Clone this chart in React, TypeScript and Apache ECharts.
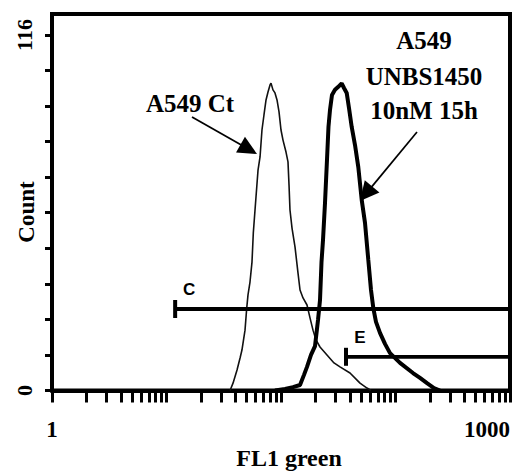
import React, { useEffect, useRef } from "react";
import * as echarts from "echarts";

// FL1 green intensity (channel value) and event counts
const CONTROL_FL1 = [35.9, 38.1, 41.3, 43.9, 45.6, 48.5, 50.2, 51.5, 53.6, 55.8, 57.3, 59.3, 61.4, 63.0, 65.6, 68.2, 71.0, 74.0, 77.0, 80.2, 81.8, 85.1, 88.6, 92.3, 96.1, 100, 104.1, 110.6, 115.1, 117.5, 119.8, 124.8, 132.6, 140.8, 146.6, 155.7, 168.7, 179.2, 190.3, 202.2, 219.1, 252.1, 290.3, 327.6, 400.5, 489.8, 563.8, 611.0];
const CONTROL_COUNT = [0, 2.4, 6.7, 10.6, 13.2, 19.7, 26.9, 31.2, 35.4, 41.9, 51.4, 58.9, 66.4, 71.9, 76.2, 85.0, 89.9, 94.8, 97.4, 99.7, 100.3, 98.1, 97.1, 94.8, 90.9, 85.0, 81.7, 77.8, 74.6, 67.1, 58.9, 53.0, 46.8, 38.3, 32.8, 30.2, 27.9, 23.7, 19.7, 16.5, 14.2, 11.6, 9.0, 7.7, 5.7, 2.4, 0.8, 0];

const TREATED_FL1 = [88.6, 108.4, 127.3, 146.6, 158.8, 168.7, 182.8, 198.2, 210.5, 219.1, 225.8, 232.7, 242.3, 252.1, 259.8, 267.8, 278.8, 296.1, 314.7, 338.9, 354.9, 374.8, 392.5, 414.5, 443.0, 473.3, 506.8, 541.6, 578.7, 611.0, 640.0, 675.5, 731.9, 809.6, 895.4, 1094.9, 1421.5, 1636.7, 1884.5, 2169.5, 2446.3];
const TREATED_COUNT = [0, 0.5, 1.1, 1.8, 5.1, 7.7, 11.6, 14.5, 23.0, 29.5, 41.9, 49.1, 61.2, 75.2, 86.0, 91.5, 96.4, 98.1, 99.0, 100.2, 98.7, 97.1, 92.2, 86.0, 80.1, 72.9, 62.2, 54.7, 42.6, 32.8, 26.9, 22.4, 18.8, 15.2, 12.2, 9.0, 5.7, 4.1, 2.4, 0.8, 0];

// Gates
const GATE_NAMES = ["C", "E"];
const GATE_START = [11.9, 369.6];
const GATE_END = [10000, 10000];
const GATE_COUNT = [26.6, 11.0];

// Axes
const X_MIN = 1;
const X_MAX = 10000;
const X_TICK_VALUES = [1, 2, 3, 4, 5, 6, 7, 8, 9, 10, 20, 30, 40, 50, 60, 70, 80, 90, 100, 200, 300, 400, 500, 600, 700, 800, 900, 1000, 2000, 3000, 4000, 5000, 6000, 7000, 8000, 9000, 10000];
const X_LABEL_VALUES = [1, 10000];
const X_LABEL_TEXTS = ["1", "1000"];
const Y_MAX = 122.85;
const Y_TICK_VALUES = [0, 11.6, 23.2, 34.8, 46.4, 58, 69.6, 81.2, 92.8, 104.4, 116];
const Y_LABEL_VALUES = [0, 116];

const SERIF = "'Liberation Serif', 'Times New Roman', serif";
const SANS = "'Liberation Sans', Arial, sans-serif";

const lg = (v: number) => Math.log10(v);

function arrow(x1: number, y1: number, x2: number, y2: number, headLen: number, headW: number) {
  const dx = x2 - x1, dy = y2 - y1;
  const L = Math.hypot(dx, dy);
  const ux = dx / L, uy = dy / L;
  const bx = x2 - ux * headLen, by = y2 - uy * headLen;
  const px = -uy, py = ux;
  return [
    { type: "line", shape: { x1, y1, x2: bx + ux * 2, y2: by + uy * 2 }, style: { stroke: "#000", lineWidth: 1.7 } },
    {
      type: "polygon",
      shape: { points: [[x2, y2], [bx + (px * headW) / 2, by + (py * headW) / 2], [bx - (px * headW) / 2, by - (py * headW) / 2]] },
      style: { fill: "#000" },
    },
  ];
}

function txt(text: string, x: number, y: number, size: number, rotation = 0) {
  return {
    type: "text",
    x,
    y,
    rotation,
    style: { text, align: "center", verticalAlign: "middle", fontFamily: SERIF, fontWeight: "bold", fontSize: size, fill: "#000" },
  };
}

export default function App() {
  const ref = useRef<HTMLDivElement>(null);
  useEffect(() => {
    if (!ref.current) return;
    const chart = echarts.init(ref.current, null, { renderer: "svg" });

    const gateLines = GATE_NAMES.map((name, i) => ({
      type: "line",
      name: "gate " + name,
      data: [[lg(GATE_START[i]), GATE_COUNT[i]], [lg(GATE_END[i]), GATE_COUNT[i]]],
      showSymbol: false,
      symbol: "none",
      lineStyle: { color: "#000", width: 3.8 },
      z: 3,
    }));
    const gateCaps = GATE_NAMES.map((name, i) => ({
      type: "scatter",
      name: "cap " + name,
      symbol: "rect",
      symbolSize: [4, 18],
      itemStyle: { color: "#000", opacity: 1 },
      z: 4,
      label: {
        show: true,
        formatter: (p: any) => (p.dataIndex === 0 ? name : ""),
        position: "top",
        distance: 2,
        offset: [14, 0],
        fontFamily: SANS,
        fontWeight: "bold",
        fontSize: 17,
        color: "#000",
        opacity: 1,
      },
      emphasis: { disabled: true },
      data: [
        [lg(GATE_START[i]), GATE_COUNT[i]],
        [lg(GATE_END[i]), GATE_COUNT[i]],
      ],
    }));

    chart.setOption({
      animation: false,
      backgroundColor: "#fff",
      grid: {
        left: 52,
        top: 14,
        width: 458,
        height: 376.5,
        show: true,
        borderColor: "#000",
        borderWidth: 4,
        backgroundColor: "transparent",
        containLabel: false,
        outerBoundsMode: "none",
      },
      xAxis: {
        type: "value",
        min: lg(X_MIN),
        max: lg(X_MAX),
        name: "FL1 green",
        nameLocation: "middle",
        nameGap: 55,
        nameTextStyle: { fontFamily: SERIF, fontWeight: "bold", fontSize: 24, color: "#000", padding: [0, 0, 0, 16] },
        axisLine: { show: true, lineStyle: { color: "#000", width: 4 } },
        axisTick: { show: true, length: 12, lineStyle: { color: "#000", width: 3 }, customValues: X_TICK_VALUES.map(lg) },
        axisLabel: {
          show: true,
          customValues: X_LABEL_VALUES.map(lg),
          formatter: (v: number) => {
            const idx = X_LABEL_VALUES.findIndex((x) => Math.abs(lg(x) - v) < 1e-6);
            return idx >= 0 ? X_LABEL_TEXTS[idx] : "";
          },
          margin: 27,
          alignMaxLabel: "right",
          fontFamily: SERIF,
          fontWeight: "bold",
          fontSize: 23,
          color: "#000",
        },
        splitLine: { show: false },
      },
      yAxis: {
        type: "value",
        min: 0,
        max: Y_MAX,
        axisLine: { show: true, lineStyle: { color: "#000", width: 4 } },
        axisTick: { show: true, length: 7, lineStyle: { color: "#000", width: 3 }, customValues: Y_TICK_VALUES },
        axisLabel: {
          show: true,
          customValues: Y_LABEL_VALUES,
          rotate: 90,
          margin: 17,
          verticalAlign: "bottom",
          align: "center",
          fontFamily: SERIF,
          fontWeight: "bold",
          fontSize: 22,
          color: "#000",
        },
        splitLine: { show: false },
      },
      series: [
        {
          type: "line",
          name: "A549 Ct",
          data: CONTROL_FL1.map((x, i) => [lg(x), CONTROL_COUNT[i]]),
          showSymbol: false,
          symbol: "none",
          lineStyle: { color: "#111", width: 1.6 },
          z: 2,
        },
        {
          type: "line",
          name: "A549 UNBS1450 10nM 15h",
          data: TREATED_FL1.map((x, i) => [lg(x), TREATED_COUNT[i]]),
          showSymbol: false,
          symbol: "none",
          lineStyle: { color: "#000", width: 4 },
          z: 2,
        },
        ...gateLines,
        ...gateCaps,
      ],
      graphic: [
        txt("Count", 26, 212, 23, Math.PI / 2),
        txt("A549 Ct", 190, 103, 25),
        txt("A549", 424, 40, 25),
        txt("UNBS1450", 424, 76, 25),
        txt("10nM 15h", 424, 110, 25),
        ...arrow(192, 117, 257, 154, 19, 18),
        ...arrow(417, 132, 360, 201, 19, 19),
      ],
    });
    return () => chart.dispose();
  }, []);
  return <div ref={ref} style={{ position: "fixed", left: 0, top: 0, width: 519, height: 475 }} />;
}
